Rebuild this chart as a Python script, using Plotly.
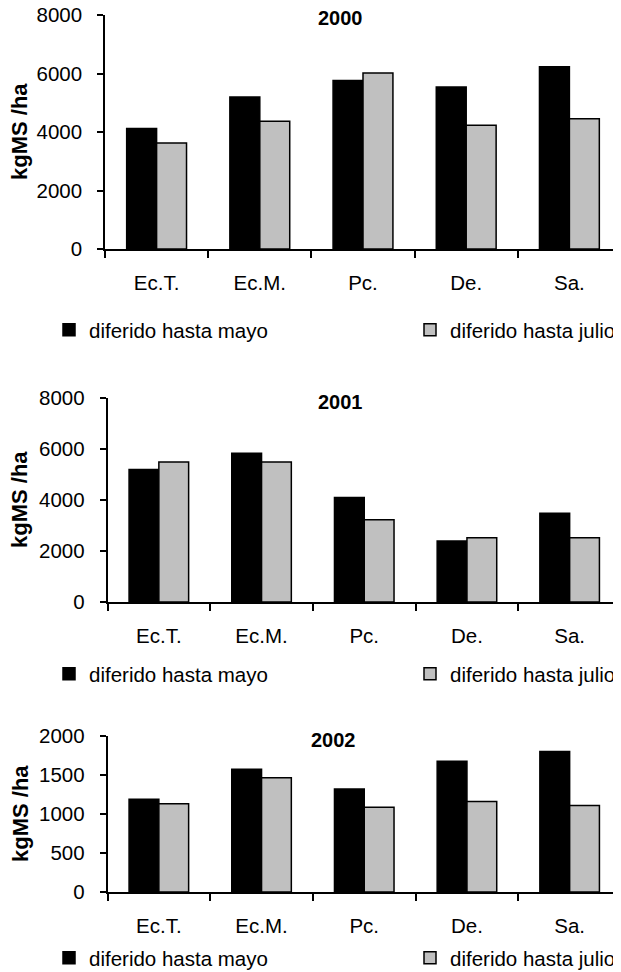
import plotly.graph_objects as go

# The page adds an 8 px body margin, so the figure is drawn 8 px smaller
# and every page coordinate below is shifted by that offset.
OFF = 8
W, H = 621 - OFF, 972 - OFF

categories = ["Ec.T.", "Ec.M.", "Pc.", "De.", "Sa."]
series_names = ["diferido hasta mayo", "diferido hasta julio"]
years = ["2000", "2001", "2002"]

mayo_2000 = [4120, 5200, 5760, 5540, 6230]
julio_2000 = [3620, 4370, 6020, 4230, 4450]
mayo_2001 = [5200, 5830, 4100, 2390, 3480]
julio_2001 = [5490, 5490, 3230, 2520, 2520]
mayo_2002 = [1190, 1575, 1320, 1675, 1800]
julio_2002 = [1130, 1465, 1085, 1160, 1110]

y_max = [8000, 8000, 2000]
y_dtick = [2000, 2000, 500]

FONT = "Liberation Sans, Arial, sans-serif"
GRAY = "#C0C0C0"
TXT = 20.5

mayo = [mayo_2000, mayo_2001, mayo_2002]
julio = [julio_2000, julio_2001, julio_2002]


def fx(px):
    return (px - OFF) / W


def fy(py):
    return 1 - (py - OFF) / H


# page-pixel layout for each panel
panels = [
    dict(top=15, bottom=249, left=105, title_x=340, title_y=18, legend_y=330, ytitle_y=132),
    dict(top=398, bottom=602, left=107.5, title_x=340, title_y=402, legend_y=674, ytitle_y=500),
    dict(top=736, bottom=892, left=107.5, title_x=334, title_y=740, legend_y=958, ytitle_y=814),
]
legend_x = [49, 410]

fig = go.Figure()
annotations = []
layout = {}

for i, p in enumerate(panels):
    n = "" if i == 0 else str(i + 1)
    vals = [mayo[i], julio[i]]
    colors = ["black", GRAY]
    for k in range(2):
        idx = 2 * i + k + 1
        leg = "legend" if idx == 1 else f"legend{idx}"
        fig.add_trace(go.Bar(
            x=categories, y=vals[k], name=series_names[k],
            marker=dict(color=colors[k], line=dict(color="black", width=1.5)),
            xaxis="x" + n, yaxis="y" + n, legend=leg,
        ))
        layout[leg] = dict(
            orientation="h", xref="paper", yref="paper",
            x=fx(legend_x[k]), y=fy(p["legend_y"]), xanchor="left", yanchor="middle",
            font=dict(family=FONT, size=TXT, color="black"),
            bgcolor="rgba(0,0,0,0)", borderwidth=0,
            itemclick=False, itemdoubleclick=False,
        )
    layout["xaxis" + n] = dict(
        domain=[fx(p["left"]), 1.0], anchor="y" + n,
        showline=True, linecolor="black", linewidth=1.5,
        ticks="outside", tickson="boundaries", ticklen=7, tickwidth=1.5, tickcolor="black",
        tickfont=dict(family=FONT, size=TXT, color="black"),
        ticklabelstandoff=15, ticklabeloverflow="allow",
        showgrid=False, zeroline=False, automargin=False, fixedrange=True,
    )
    layout["yaxis" + n] = dict(
        domain=[fy(p["bottom"]), fy(p["top"])], anchor="x" + n,
        range=[0, y_max[i]], dtick=y_dtick[i], tick0=0,
        showline=True, linecolor="black", linewidth=1.5,
        ticks="outside", ticklen=6, tickwidth=1.5, tickcolor="black",
        tickfont=dict(family=FONT, size=TXT, color="black"),
        ticklabelstandoff=11, ticklabeloverflow="allow",
        showgrid=False, zeroline=False, automargin=False, fixedrange=True,
    )
    annotations.append(dict(
        text="<b>" + years[i] + "</b>", xref="paper", yref="paper",
        x=fx(p["title_x"]), y=fy(p["title_y"]), showarrow=False,
        xanchor="center", yanchor="middle",
        font=dict(family=FONT, size=20, color="black"),
    ))
    annotations.append(dict(
        text="<b>kgMS /ha</b>", xref="paper", yref="paper",
        x=fx(20), y=fy(p["ytitle_y"]), showarrow=False, textangle=-90,
        xanchor="center", yanchor="middle", borderpad=0,
        font=dict(family=FONT, size=22, color="black"),
    ))

fig.update_layout(
    template="none",
    width=W, height=H,
    margin=dict(l=0, r=0, t=0, b=0, autoexpand=False),
    paper_bgcolor="white", plot_bgcolor="white",
    barmode="group", bargap=0.42, bargroupgap=0,
    showlegend=True,
    annotations=annotations,
    **layout,
)

fig.write_html("out.html")
